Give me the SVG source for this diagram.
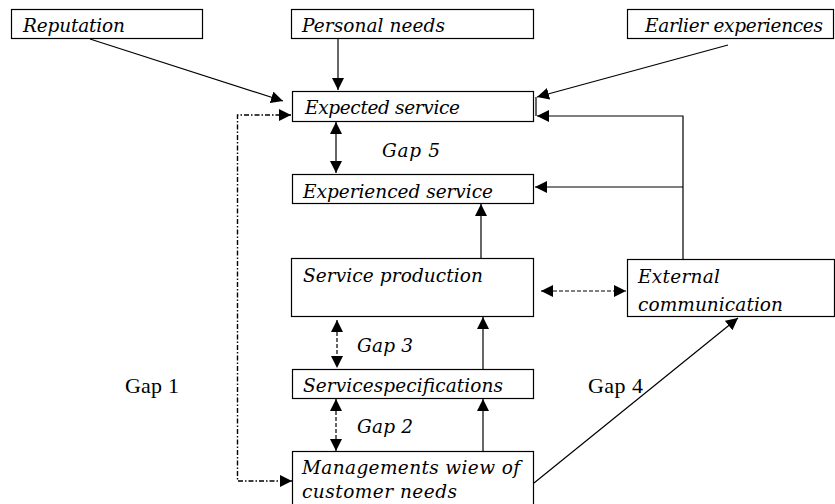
<svg xmlns="http://www.w3.org/2000/svg" width="835" height="504" viewBox="0 0 835 504">
  <style>
    .box { fill: #fff; stroke: #000; stroke-width: 1.2; }
    .lbl { font-family: "DejaVu Serif", "Liberation Serif", serif; font-style: italic; font-size: 18.5px; fill: #000; }
    .gap { font-family: "Liberation Serif", "DejaVu Serif", serif; font-size: 22px; fill: #000; }
    .ln { fill: none; stroke: #000; stroke-width: 1.2; }
    .dash { stroke-dasharray: 4 2; }
    .dashdot { stroke-dasharray: 5 2 1.5 2; stroke-width: 1.4; }
  </style>
  <defs>
    <marker id="ah" markerUnits="userSpaceOnUse" markerWidth="12" markerHeight="12" refX="12" refY="6" orient="auto-start-reverse">
      <path d="M0,0 L12,6 L0,12 z" fill="#000"/>
    </marker>
  </defs>
  <rect width="835" height="504" fill="#fff"/>

  <g id="connectors">
    <!-- inputs to expected service -->
    <path class="ln" d="M90,39 L283,101" marker-end="url(#ah)"/>
    <path class="ln" d="M338,39 V90" marker-end="url(#ah)"/>
    <path class="ln" d="M728,45 L537,97" marker-end="url(#ah)"/>
    <path class="ln" d="M536,97 V116"/>
    <!-- external communication feedback -->
    <path class="ln" d="M683,259 V116 H537" marker-end="url(#ah)"/>
    <path class="ln" d="M683,187 H535" marker-end="url(#ah)"/>
    <!-- gap 5 -->
    <path class="ln" d="M336,122 V173" marker-start="url(#ah)" marker-end="url(#ah)"/>
    <!-- production chain -->
    <path class="ln" d="M481,258 V204" marker-end="url(#ah)"/>
    <path class="ln dash" d="M541,291 H626" marker-start="url(#ah)" marker-end="url(#ah)"/>
    <path class="ln dash" d="M337,320 V368" marker-start="url(#ah)" marker-end="url(#ah)"/>
    <path class="ln" d="M483,369 V317" marker-end="url(#ah)"/>
    <path class="ln dash" d="M336,399 V451" marker-start="url(#ah)" marker-end="url(#ah)"/>
    <path class="ln" d="M483,451 V399" marker-end="url(#ah)"/>
    <!-- gap 4 -->
    <path class="ln" d="M534,483 L738,318" marker-end="url(#ah)"/>
    <!-- gap 1 loop -->
    <path class="ln dashdot" d="M291,115 H237.5 V481 H292" marker-start="url(#ah)" marker-end="url(#ah)"/>
  </g>

  <g id="reputation">
    <rect class="box" x="11.5" y="9.5" width="191" height="29"/>
    <text class="lbl" x="23" y="32" textLength="102">Reputation</text>
  </g>
  <g id="personal-needs">
    <rect class="box" x="291.5" y="9.5" width="242" height="29"/>
    <text class="lbl" x="302" y="32" textLength="143">Personal needs</text>
  </g>
  <g id="earlier-experiences">
    <rect class="box" x="627.5" y="9.5" width="206" height="29"/>
    <text class="lbl" x="645" y="32" textLength="178">Earlier experiences</text>
  </g>
  <g id="expected-service">
    <rect class="box" x="292.5" y="91.5" width="241" height="30"/>
    <text class="lbl" x="305" y="114" textLength="155">Expected service</text>
  </g>
  <g id="experienced-service">
    <rect class="box" x="292.5" y="174.5" width="241" height="29"/>
    <text class="lbl" x="303" y="198" textLength="190">Experienced service</text>
  </g>
  <g id="service-production">
    <rect class="box" x="291.5" y="258.5" width="242" height="58"/>
    <text class="lbl" x="303" y="282" textLength="180">Service production</text>
  </g>
  <g id="external-communication">
    <rect class="box" x="627.5" y="259.5" width="207" height="57"/>
    <text class="lbl" x="638" y="283" textLength="82">External</text>
    <text class="lbl" x="638" y="311" textLength="145">communication</text>
  </g>
  <g id="servicespecifications">
    <rect class="box" x="292.5" y="369.5" width="241" height="29"/>
    <text class="lbl" x="303" y="392" textLength="200">Servicespecifications</text>
  </g>
  <g id="managements-view">
    <rect class="box" x="292.5" y="451.5" width="241" height="60"/>
    <text class="lbl" x="302" y="474" textLength="218">Managements wiew of</text>
    <text class="lbl" x="302" y="498" textLength="155">customer needs</text>
  </g>

  <g id="gap-labels">
    <text class="lbl" x="382" y="157" textLength="58">Gap 5</text>
    <text class="lbl" x="357" y="352" textLength="56">Gap 3</text>
    <text class="lbl" x="357" y="433" textLength="56">Gap 2</text>
    <text class="gap" x="125" y="393" textLength="54">Gap 1</text>
    <text class="gap" x="588" y="393" textLength="55">Gap 4</text>
  </g>
</svg>
